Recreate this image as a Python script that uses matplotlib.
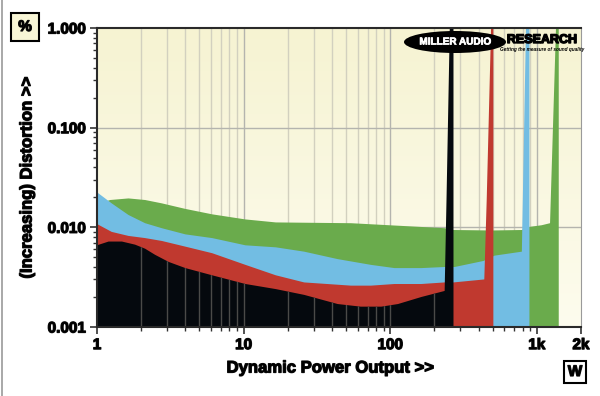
"""Dynamic power output vs distortion (Miller Audio Research style plot)."""

import numpy as np
import matplotlib
matplotlib.use("Agg")
import matplotlib.pyplot as plt
import matplotlib.patheffects as pe
from matplotlib.patches import Ellipse
from matplotlib.lines import Line2D

plt.rcParams["font.family"] = ["Liberation Sans", "DejaVu Sans"]
plt.rcParams["font.weight"] = "bold"

# Series (power in W, distortion in %)
green_w = [1.0, 1.23, 1.64, 2.13, 2.77, 4.01, 6.11, 10.3, 16.6, 54, 125, 235, 270,
           490, 790, 890, 1080, 1230, 1370, 1410, 1410]
green_pct = [0.017, 0.0188, 0.0195, 0.0188, 0.0174, 0.0153, 0.0135, 0.0120, 0.0112,
             0.0110, 0.0103, 0.0098, 0.0094, 0.0093, 0.0094, 0.0101, 0.0105,
             0.0110, 2.0, 2.0, 1e-5]

blue_w = [1.0, 1.26, 1.64, 2.13, 2.77, 4.01, 6.11, 10.3, 16.6, 25.9, 43.8, 74,
          107, 163, 235, 275, 433, 515, 790, 850, 890, 890]
blue_pct = [0.0225, 0.0174, 0.0133, 0.0110, 0.0098, 0.0085, 0.0078, 0.0066, 0.0063,
            0.0057, 0.0048, 0.0042, 0.0039, 0.0039, 0.0040, 0.0040, 0.0046, 0.0052,
            0.0057, 2.0, 2.0, 1e-5]

red_w = [1.0, 1.26, 1.64, 2.13, 2.77, 4.01, 6.11, 10.3, 16.6, 25.9, 54, 74, 107,
         163, 235, 270, 438, 455, 493, 505, 505]
red_pct = [0.0108, 0.0090, 0.0082, 0.0078, 0.0073, 0.0064, 0.0055, 0.0042, 0.0033,
           0.0028, 0.0026, 0.0026, 0.0027, 0.0027, 0.0028, 0.0028, 0.0030, 0.019,
           2.0, 2.0, 1e-5]

black_w = [1.0, 1.2, 1.48, 1.82, 2.13, 2.49, 3.08, 4.01, 6.11, 10.3, 16.6, 25.9,
           43.8, 63, 87, 113, 163, 235, 242, 257, 270, 270]
black_pct = [0.0066, 0.0072, 0.0072, 0.0067, 0.0061, 0.0053, 0.0045, 0.0039, 0.0033,
             0.0027, 0.0024, 0.0021, 0.0017, 0.0016, 0.0016, 0.0017, 0.0020, 0.0023,
             0.019, 2.0, 2.0, 1e-5]

x_ticks = [1, 10, 100, 1000, 2000]
x_tick_labels = ["1", "10", "100", "1k", "2k"]
y_ticks = [0.001, 0.01, 0.1, 1.0]
y_tick_labels = ["0.001", "0.010", "0.100", "1.000"]

GREEN = "#6aab4c"
BLUE = "#72bde3"
RED = "#c0392f"
BLACK = "#05090e"

# thickens the text to look like the heavy labels of the original
heavy = [pe.withStroke(linewidth=0.9, foreground="#111111")]

fig = plt.figure(figsize=(6.0, 3.96), dpi=100)
ax = fig.add_axes([97 / 600, 69 / 396, 484 / 600, 299 / 396])
ax.set_xscale("log")
ax.set_yscale("log")
ax.set_xlim(1, 2000)
ax.set_ylim(0.001, 1.0)

# cream gradient background
grad = np.linspace(0, 1, 256).reshape(-1, 1)
top_col = np.array([246, 243, 210]) / 255
bot_col = np.array([253, 252, 238]) / 255
img = top_col * (1 - grad[..., None]) + bot_col * grad[..., None]
ax.imshow(img, extent=[0, 1, 0, 1], transform=ax.transAxes, aspect="auto", zorder=0)

# grid lines
minor_x = [m * 10 ** e for e in range(0, 4) for m in range(2, 10) if m * 10 ** e < 2000]
major_x = [10, 100, 1000]
for xv in minor_x:
    ax.axvline(xv, color="#d2d0bf", lw=1.0, zorder=1)
for xv in major_x:
    ax.axvline(xv, color="#b4b4ae", lw=1.0, zorder=1)
for yv in [0.01, 0.1]:
    ax.axhline(yv, color="#b4b4ae", lw=1.0, zorder=1)

ax.fill_between(green_w, green_pct, 1e-5, color=GREEN, lw=0, zorder=2)
ax.fill_between(blue_w, blue_pct, 1e-5, color=BLUE, lw=0, zorder=3)
ax.fill_between(red_w, red_pct, 1e-5, color=RED, lw=0, zorder=4)
black_fill = ax.fill_between(black_w, black_pct, 1e-5, color=BLACK, lw=0, zorder=5)

# grid visible through the black area
clip = black_fill.get_paths()[0]
for xv in minor_x + major_x:
    ln = ax.axvline(xv, color="#4a4a48", lw=1.0, zorder=6)
    ln.set_clip_path(clip, ax.transData)

ax.set_xticks(x_ticks)
ax.set_xticklabels(x_tick_labels)
ax.set_yticks(y_ticks)
ax.set_yticklabels(y_tick_labels)
ax.tick_params(axis="both", which="major", labelsize=11, length=5, width=1.2,
               color="#333333", direction="out", pad=3)
ax.tick_params(axis="both", which="minor", length=3, width=1.0, color="#333333",
               direction="out")
ax.yaxis.set_minor_locator(matplotlib.ticker.LogLocator(base=10, subs=np.arange(2, 10)))
ax.yaxis.set_minor_formatter(matplotlib.ticker.NullFormatter())
ax.xaxis.set_minor_locator(matplotlib.ticker.LogLocator(base=10, subs=np.arange(2, 10)))
ax.xaxis.set_minor_formatter(matplotlib.ticker.NullFormatter())
for lab in ax.get_xticklabels() + ax.get_yticklabels():
    lab.set_fontweight("bold")
    lab.set_path_effects(heavy)

for side in ["left", "bottom", "top"]:
    ax.spines[side].set_color("#2a2a2a")
    ax.spines[side].set_linewidth(1.5)
ax.spines["right"].set_color("#9a9a9a")
ax.spines["right"].set_linewidth(0.8)
for sp in ax.spines.values():
    sp.set_zorder(10)

fig.text(330 / 600, 1 - 368 / 396, "Dynamic Power Output >>", ha="center",
         va="center", fontsize=12, fontweight="bold", path_effects=heavy)
fig.text(27 / 600, 1 - 178 / 396, "(Increasing) Distortion >>", ha="center",
         va="center", rotation=90, fontsize=12, fontweight="bold", path_effects=heavy)

# unit boxes
fig.text(25 / 600, 1 - 27 / 396, "%", ha="center", va="center", fontsize=11,
         fontweight="bold", path_effects=heavy,
         bbox=dict(boxstyle="square,pad=0.45", fc="#f8f6d6", ec="black", lw=1.5))
fig.text(575 / 600, 1 - 372 / 396, "W", ha="center", va="center", fontsize=11,
         fontweight="bold", path_effects=heavy,
         bbox=dict(boxstyle="square,pad=0.25", fc="white", ec="black", lw=1.5))

# logo
fig.add_artist(Ellipse((455 / 600, 1 - 42 / 396), 102 / 600, 22 / 396,
                       transform=fig.transFigure, fc="black", ec="none", zorder=20))
fig.text(455 / 600, 1 - 41.5 / 396, "MILLER AUDIO", ha="center", va="center",
         fontsize=7.2, color="white", fontweight="bold", zorder=21,
         path_effects=[pe.withStroke(linewidth=0.5, foreground="white")])
fig.text(542 / 600, 1 - 40 / 396, "RESEARCH", ha="center", va="center",
         fontsize=9, color="black", fontweight="bold", zorder=21,
         path_effects=[pe.withStroke(linewidth=1.0, foreground="black")])
fig.text(542 / 600, 1 - 49 / 396, "Getting the measure of sound quality",
         ha="center", va="center", fontsize=3.4, color="black",
         fontweight="bold", style="italic", zorder=21)

# left frame line of the original image
fig.add_artist(Line2D([1.5 / 600, 1.5 / 600], [0, 1], transform=fig.transFigure,
                      color="#9a9a9a", lw=1.2))

fig.savefig("out.png", dpi=100)
